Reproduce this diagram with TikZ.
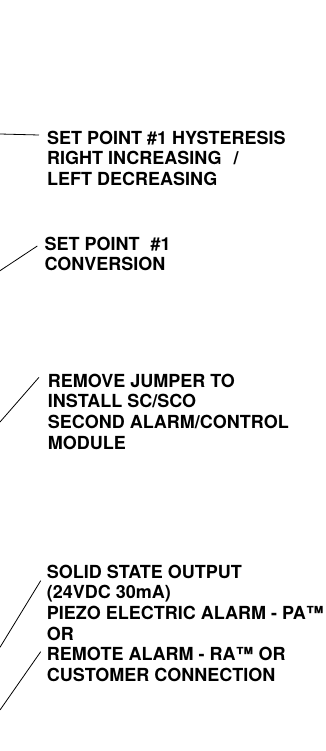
\documentclass[tikz,border=0pt]{standalone}
\usepackage{fontspec}
\setmainfont{TeX Gyre Heros}
\usetikzlibrary{positioning,calc}

\begin{document}
\begin{tikzpicture}[x=1pt,y=-1pt,
  lbl/.style={anchor=base west,inner sep=0pt,align=left,
    font=\fontsize{18}{20.6}\selectfont\bfseries},
  lead/.style={line width=0.8pt}]
\useasboundingbox (0,0) rectangle (326,751);
% callout texts (placed by the baseline of their last line)
\node[lbl] (hyst) at (47,185.5) {SET POINT \#1 HYSTERESIS\\RIGHT INCREASING\hspace{12pt}/\\LEFT DECREASING};
\node[lbl] (conv) at (44.3,270.6) {SET POINT\hspace{11pt}\#1\\CONVERSION};
\node[lbl] (jump) at (47.7,449) {REMOVE JUMPER TO\\INSTALL SC/SCO\\SECOND ALARM/CONTROL\\MODULE};
\node[lbl] (ssout) at (46.7,640.1) {SOLID STATE OUTPUT\\(24VDC 30mA)\\PIEZO ELECTRIC ALARM - PA™\\OR};
\node[lbl] (remote) at (46.7,681.5) {REMOTE ALARM - RA™ OR\\CUSTOMER CONNECTION};
% free ends at the left edge
\coordinate (hyst0) at (0,134);
\coordinate (conv0) at (0,270.7);
\coordinate (jump0) at (0,422);
\coordinate (ssout0) at (0,647.3);
\coordinate (remote0) at (0,710);
% leader lines
\draw[lead] (hyst0) -- ($(hyst.base west)+(-8,-50.5)$);
\draw[lead] (conv0) -- ($(conv.base west)+(-7,-24.6)$);
\draw[lead] (jump0) -- ($(jump.base west)+(-8.7,-71.7)$);
\draw[lead] (ssout0) -- ($(ssout.base west)+(-6,-59.4)$);
\draw[lead] (remote0) -- ($(remote.base west)+(-6,-29.8)$);
\end{tikzpicture}
\end{document}
